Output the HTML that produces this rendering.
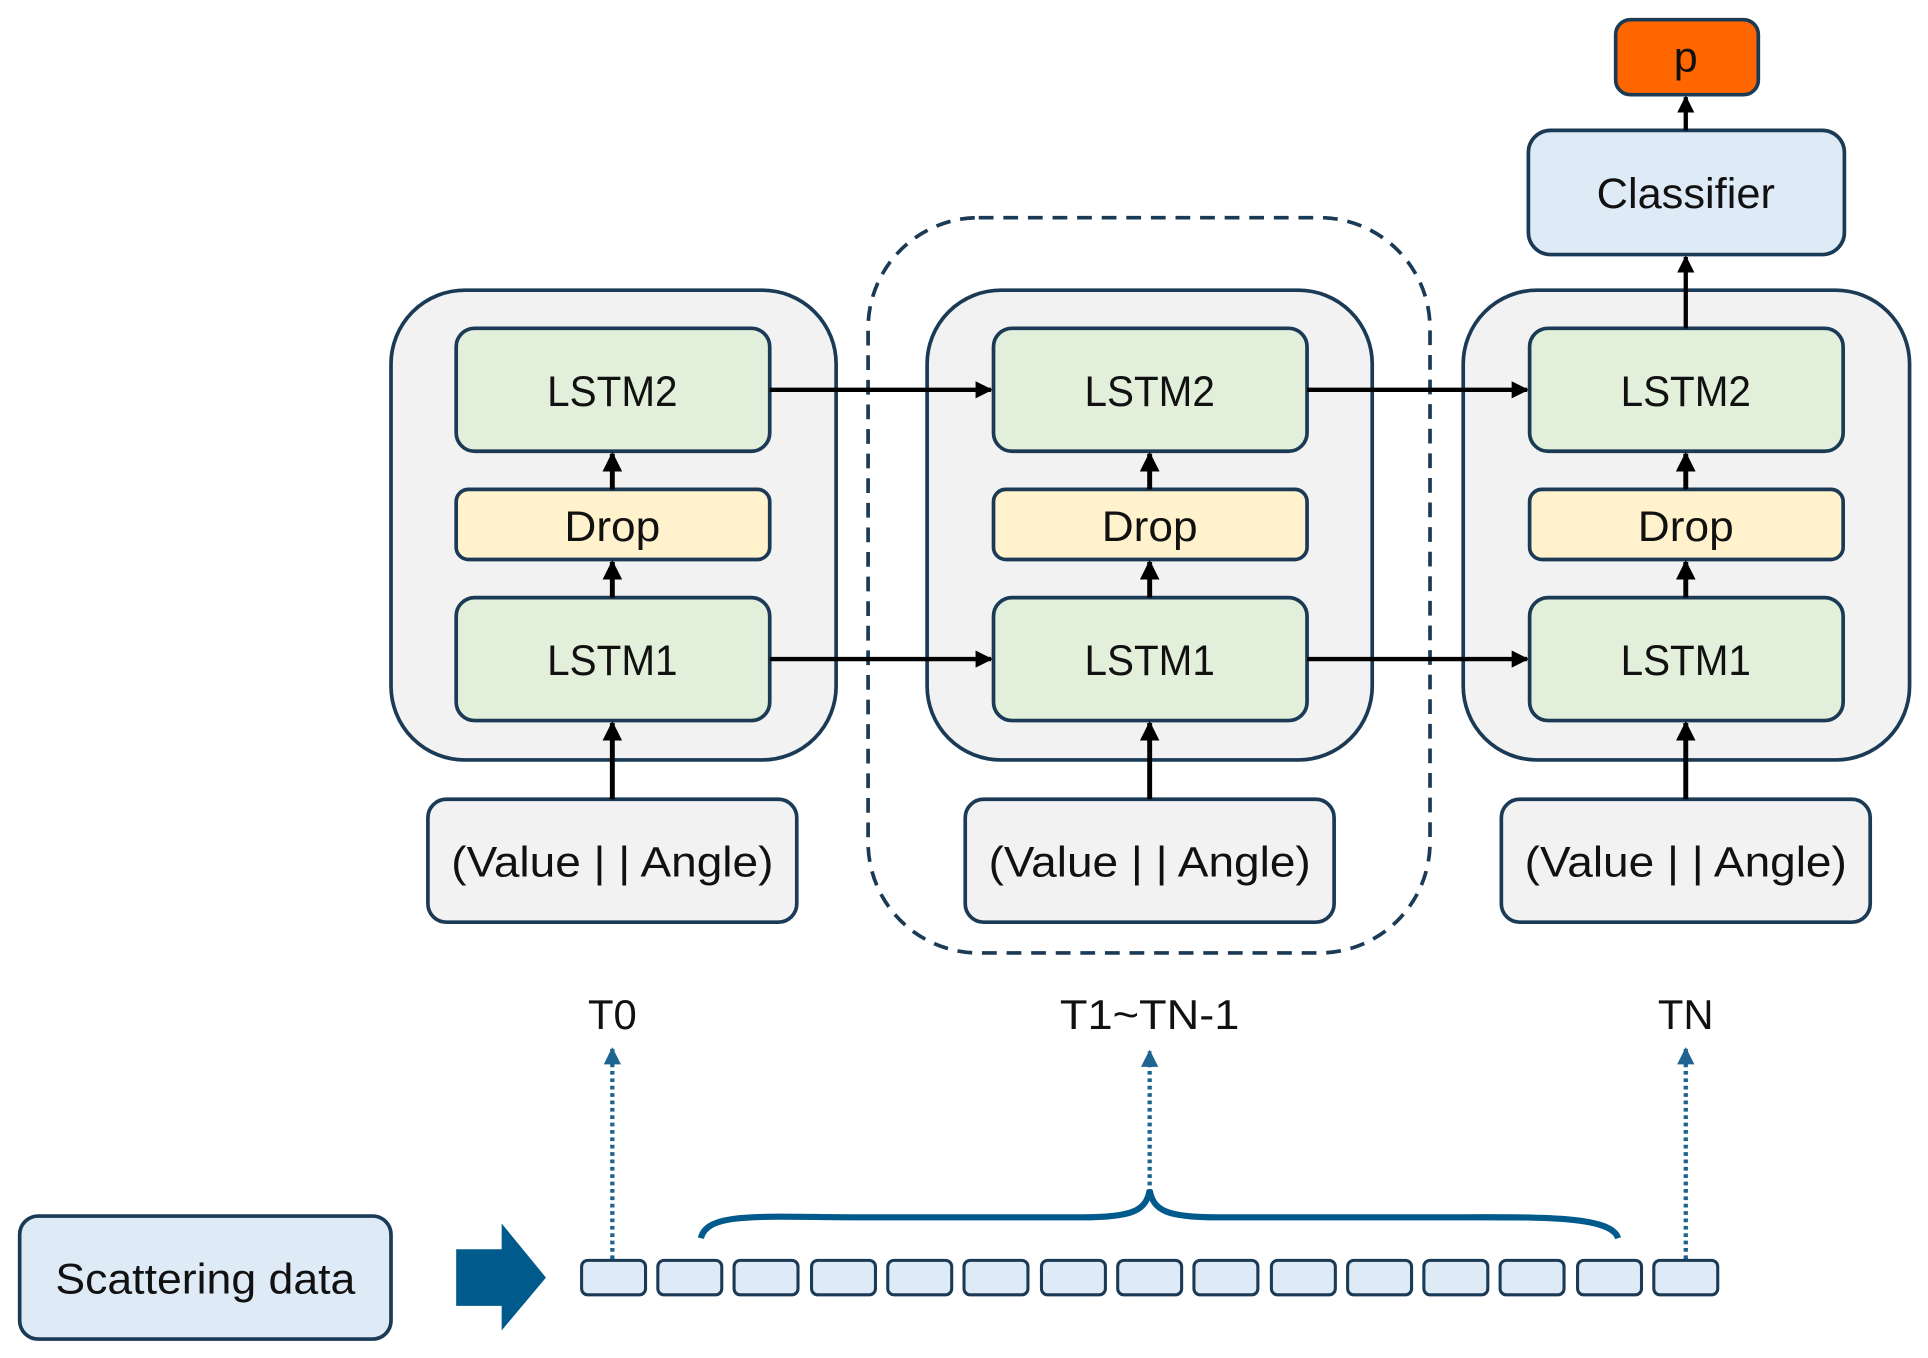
<!DOCTYPE html>
<html><head><meta charset="utf-8"><style>html,body{margin:0;padding:0;background:#fff}svg{display:block}</style></head><body>
<svg width="1928" height="1358" viewBox="0 0 1568 1104.4" xmlns="http://www.w3.org/2000/svg" font-family="Liberation Sans, DejaVu Sans, sans-serif">
<defs>
<marker id="a" viewBox="0 0 10 10" refX="9" refY="5" markerWidth="4" markerHeight="4" orient="auto"><path d="M0,0L10,5L0,10z" fill="#000"/></marker>
<marker id="b" viewBox="0 0 10 10" refX="9" refY="5" markerWidth="4" markerHeight="4" orient="auto"><path d="M0,0L10,5L0,10z" fill="#1F6391"/></marker>
</defs>
<g stroke="#1A3A55" stroke-width="3">
<rect x="318" y="236" width="362" height="382" rx="60" fill="#F2F2F2"/>
<rect x="754" y="236" width="362" height="382" rx="60" fill="#F2F2F2"/>
<rect x="1190" y="236" width="363" height="382" rx="60" fill="#F2F2F2"/>
<rect x="706" y="177" width="457" height="598" rx="90" fill="none" stroke-dasharray="12 8"/>
</g>
<g stroke="#1A3A55" stroke-width="3" font-size="35" text-anchor="middle">
<g id="c">
<rect x="371" y="267" width="255" height="100" rx="15" fill="#E2EFDA"/>
<rect x="371" y="398" width="255" height="57" rx="10" fill="#FFF2CC"/>
<rect x="371" y="486" width="255" height="100" rx="15" fill="#E2EFDA"/>
<rect x="348" y="650" width="300" height="100" rx="15" fill="#F2F2F2"/>
<g stroke="none" fill="#111">
<text x="498" y="330" textLength="106" lengthAdjust="spacingAndGlyphs">LSTM2</text>
<text x="498" y="440" textLength="78" lengthAdjust="spacingAndGlyphs">Drop</text>
<text x="498" y="549" textLength="106" lengthAdjust="spacingAndGlyphs">LSTM1</text>
<text x="498" y="713" textLength="262" lengthAdjust="spacingAndGlyphs">(Value | | Angle)</text>
</g>
<g stroke="#000" stroke-width="4" fill="none">
<line x1="498" y1="398" x2="498" y2="369" marker-end="url(#a)"/>
<line x1="498" y1="486" x2="498" y2="457" marker-end="url(#a)"/>
<line x1="498" y1="650" x2="498" y2="588" marker-end="url(#a)"/>
</g>
</g>
<use href="#c" x="437"/>
<use href="#c" x="873"/>
<rect x="1243" y="106" width="257" height="101" rx="18" fill="#DEEBF7"/>
<rect x="1314" y="16" width="116" height="61" rx="12" fill="#FF6600"/>
<text x="1371" y="169" stroke="none" fill="#111" textLength="145" lengthAdjust="spacingAndGlyphs">Classifier</text>
<text x="1371" y="58" stroke="none" fill="#111">p</text>
<rect x="16" y="989" width="302" height="100" rx="15" fill="#DEEBF7"/>
<text x="167" y="1052" stroke="none" fill="#111" textLength="244" lengthAdjust="spacingAndGlyphs">Scattering data</text>
</g>
<g stroke="#000" stroke-width="3.5" fill="none">
<line x1="626" y1="317" x2="806" y2="317" marker-end="url(#a)"/>
<line x1="626" y1="536" x2="806" y2="536" marker-end="url(#a)"/>
<line x1="1063" y1="317" x2="1242" y2="317" marker-end="url(#a)"/>
<line x1="1063" y1="536" x2="1242" y2="536" marker-end="url(#a)"/>
<line x1="1371" y1="267" x2="1371" y2="209" marker-end="url(#a)"/>
<line x1="1371" y1="106" x2="1371" y2="79" marker-end="url(#a)"/>
</g>
<g font-size="34" text-anchor="middle" fill="#111">
<text x="498" y="837">T0</text>
<text x="935" y="837" textLength="146" lengthAdjust="spacingAndGlyphs">T1~TN-1</text>
<text x="1371" y="837">TN</text>
</g>
<g stroke="#1F6391" stroke-width="3.5" stroke-dasharray="3 3" fill="none">
<line x1="498" y1="1024" x2="498" y2="853" marker-end="url(#b)"/>
<line x1="935" y1="970" x2="935" y2="855" marker-end="url(#b)"/>
<line x1="1371" y1="1024" x2="1371" y2="853" marker-end="url(#b)"/>
</g>
<path d="M570,1007 C575,985 620,990 700,990 L880,990 C920,990 932,985 935,968 C938,985 950,990 990,990 L1170,990 C1250,990 1310,988 1316,1007" fill="none" stroke="#005A8C" stroke-width="5"/>
<path d="M371,1016 L408,1016 L408,995 L444,1039 L408,1082 L408,1062 L371,1062 Z" fill="#005A8C"/>
<g fill="#DEEBF7" stroke="#1A3A55" stroke-width="2.5">
<rect x="473" y="1025" width="52" height="28" rx="5"/>
<rect x="535" y="1025" width="52" height="28" rx="5"/>
<rect x="597" y="1025" width="52" height="28" rx="5"/>
<rect x="660" y="1025" width="52" height="28" rx="5"/>
<rect x="722" y="1025" width="52" height="28" rx="5"/>
<rect x="784" y="1025" width="52" height="28" rx="5"/>
<rect x="847" y="1025" width="52" height="28" rx="5"/>
<rect x="909" y="1025" width="52" height="28" rx="5"/>
<rect x="971" y="1025" width="52" height="28" rx="5"/>
<rect x="1034" y="1025" width="52" height="28" rx="5"/>
<rect x="1096" y="1025" width="52" height="28" rx="5"/>
<rect x="1158" y="1025" width="52" height="28" rx="5"/>
<rect x="1220" y="1025" width="52" height="28" rx="5"/>
<rect x="1283" y="1025" width="52" height="28" rx="5"/>
<rect x="1345" y="1025" width="52" height="28" rx="5"/>
</g>
</svg>
</body></html>
